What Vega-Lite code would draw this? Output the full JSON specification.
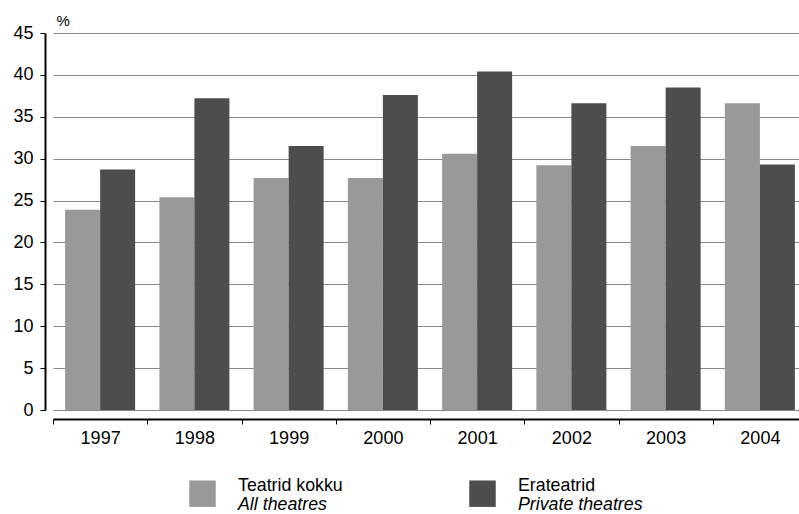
{
  "$schema": "https://vega.github.io/schema/vega-lite/v6.json",
  "autosize": {"type": "pad"},
  "padding": {"left": 12, "top": 13, "right": 0, "bottom": 0},
  "bounds": "flush",
  "spacing": 0,
  "resolve": {"scale": {"x": "independent", "y": "independent"}},
  "config": {
    "view": {"stroke": null},
    "font": "Liberation Sans",
    "background": "white"
  },
  "datasets": {
    "bars": [
      {"year": "1997", "series": "Teatrid kokku", "value": 23.9},
      {"year": "1997", "series": "Erateatrid", "value": 28.7},
      {"year": "1998", "series": "Teatrid kokku", "value": 25.4},
      {"year": "1998", "series": "Erateatrid", "value": 37.2},
      {"year": "1999", "series": "Teatrid kokku", "value": 27.7},
      {"year": "1999", "series": "Erateatrid", "value": 31.5},
      {"year": "2000", "series": "Teatrid kokku", "value": 27.7},
      {"year": "2000", "series": "Erateatrid", "value": 37.6},
      {"year": "2001", "series": "Teatrid kokku", "value": 30.6},
      {"year": "2001", "series": "Erateatrid", "value": 40.4},
      {"year": "2002", "series": "Teatrid kokku", "value": 29.2},
      {"year": "2002", "series": "Erateatrid", "value": 36.6},
      {"year": "2003", "series": "Teatrid kokku", "value": 31.5},
      {"year": "2003", "series": "Erateatrid", "value": 38.5},
      {"year": "2004", "series": "Teatrid kokku", "value": 36.6},
      {"year": "2004", "series": "Erateatrid", "value": 29.3}
    ],
    "legend": [
      {"series": "Teatrid kokku", "line": 1, "label": "Teatrid kokku"},
      {"series": "Teatrid kokku", "line": 2, "label": "All theatres"},
      {"series": "Erateatrid", "line": 1, "label": "Erateatrid"},
      {"series": "Erateatrid", "line": 2, "label": "Private theatres"}
    ]
  },
  "vconcat": [
    {
      "width": 754,
      "height": 377,
      "data": {"name": "bars"},
      "mark": {"type": "bar"},
      "encoding": {
        "x": {
          "field": "year",
          "type": "ordinal",
          "scale": {"range": [8, 762], "paddingInner": 0, "paddingOuter": 0},
          "axis": {
            "orient": "bottom",
            "offset": 9,
            "title": null,
            "labelAngle": 0,
            "domainColor": "black",
            "domainWidth": 2,
            "tickColor": "black",
            "tickSize": 5,
            "tickBand": "extent",
            "labelFontSize": 18,
            "labelColor": "black",
            "labelPadding": 5,
            "grid": false
          }
        },
        "xOffset": {
          "field": "series",
          "type": "nominal",
          "scale": {"domain": ["Teatrid kokku", "Erateatrid"], "paddingInner": 0, "paddingOuter": 0.346}
        },
        "y": {
          "field": "value",
          "type": "quantitative",
          "scale": {"domain": [0, 45], "nice": false},
          "axis": {
            "values": [0, 5, 10, 15, 20, 25, 30, 35, 40, 45],
            "title": "%",
            "titleAngle": 0,
            "titleAlign": "left",
            "titleBaseline": "alphabetic",
            "titleX": 11,
            "titleY": -8,
            "titleFontSize": 15,
            "titleFontWeight": "normal",
            "titleColor": "black",
            "grid": true,
            "gridColor": "#888888",
            "domainColor": "black",
            "domainWidth": 2,
            "tickColor": "black",
            "tickSize": 5,
            "labelFontSize": 18,
            "labelColor": "black",
            "labelPadding": 7
          }
        },
        "color": {
          "field": "series",
          "type": "nominal",
          "scale": {"domain": ["Teatrid kokku", "Erateatrid"], "range": ["#999999", "#4d4d4d"]},
          "legend": null
        }
      }
    },
    {
      "width": 754,
      "height": 100,
      "data": {"name": "legend"},
      "encoding": {
        "x": {
          "field": "series",
          "type": "nominal",
          "scale": {"type": "point", "domain": ["Teatrid kokku", "Erateatrid"], "range": [157.5, 437.5], "padding": 0},
          "axis": null
        },
        "y": {
          "field": "line",
          "type": "ordinal",
          "scale": {"type": "point", "domain": [1, 2], "range": [83.7, 103.2], "padding": 0},
          "axis": null
        }
      },
      "layer": [
        {
          "transform": [{"filter": "datum.line == 1"}],
          "mark": {"type": "point", "shape": "square", "size": 700, "filled": true, "opacity": 1, "strokeWidth": 0},
          "encoding": {
            "color": {
              "field": "series",
              "type": "nominal",
              "scale": {"domain": ["Teatrid kokku", "Erateatrid"], "range": ["#999999", "#4d4d4d"]},
              "legend": null
            }
          }
        },
        {
          "transform": [{"filter": "datum.line == 1"}],
          "mark": {"type": "text", "align": "left", "baseline": "alphabetic", "dx": 35.5, "dy": -3, "fontSize": 17.8, "color": "black"},
          "encoding": {"text": {"field": "label"}}
        },
        {
          "transform": [{"filter": "datum.line == 2"}],
          "mark": {"type": "text", "align": "left", "baseline": "alphabetic", "dx": 35.5, "dy": -3, "fontSize": 17.8, "fontStyle": "italic", "color": "black"},
          "encoding": {"text": {"field": "label"}}
        }
      ]
    }
  ]
}
